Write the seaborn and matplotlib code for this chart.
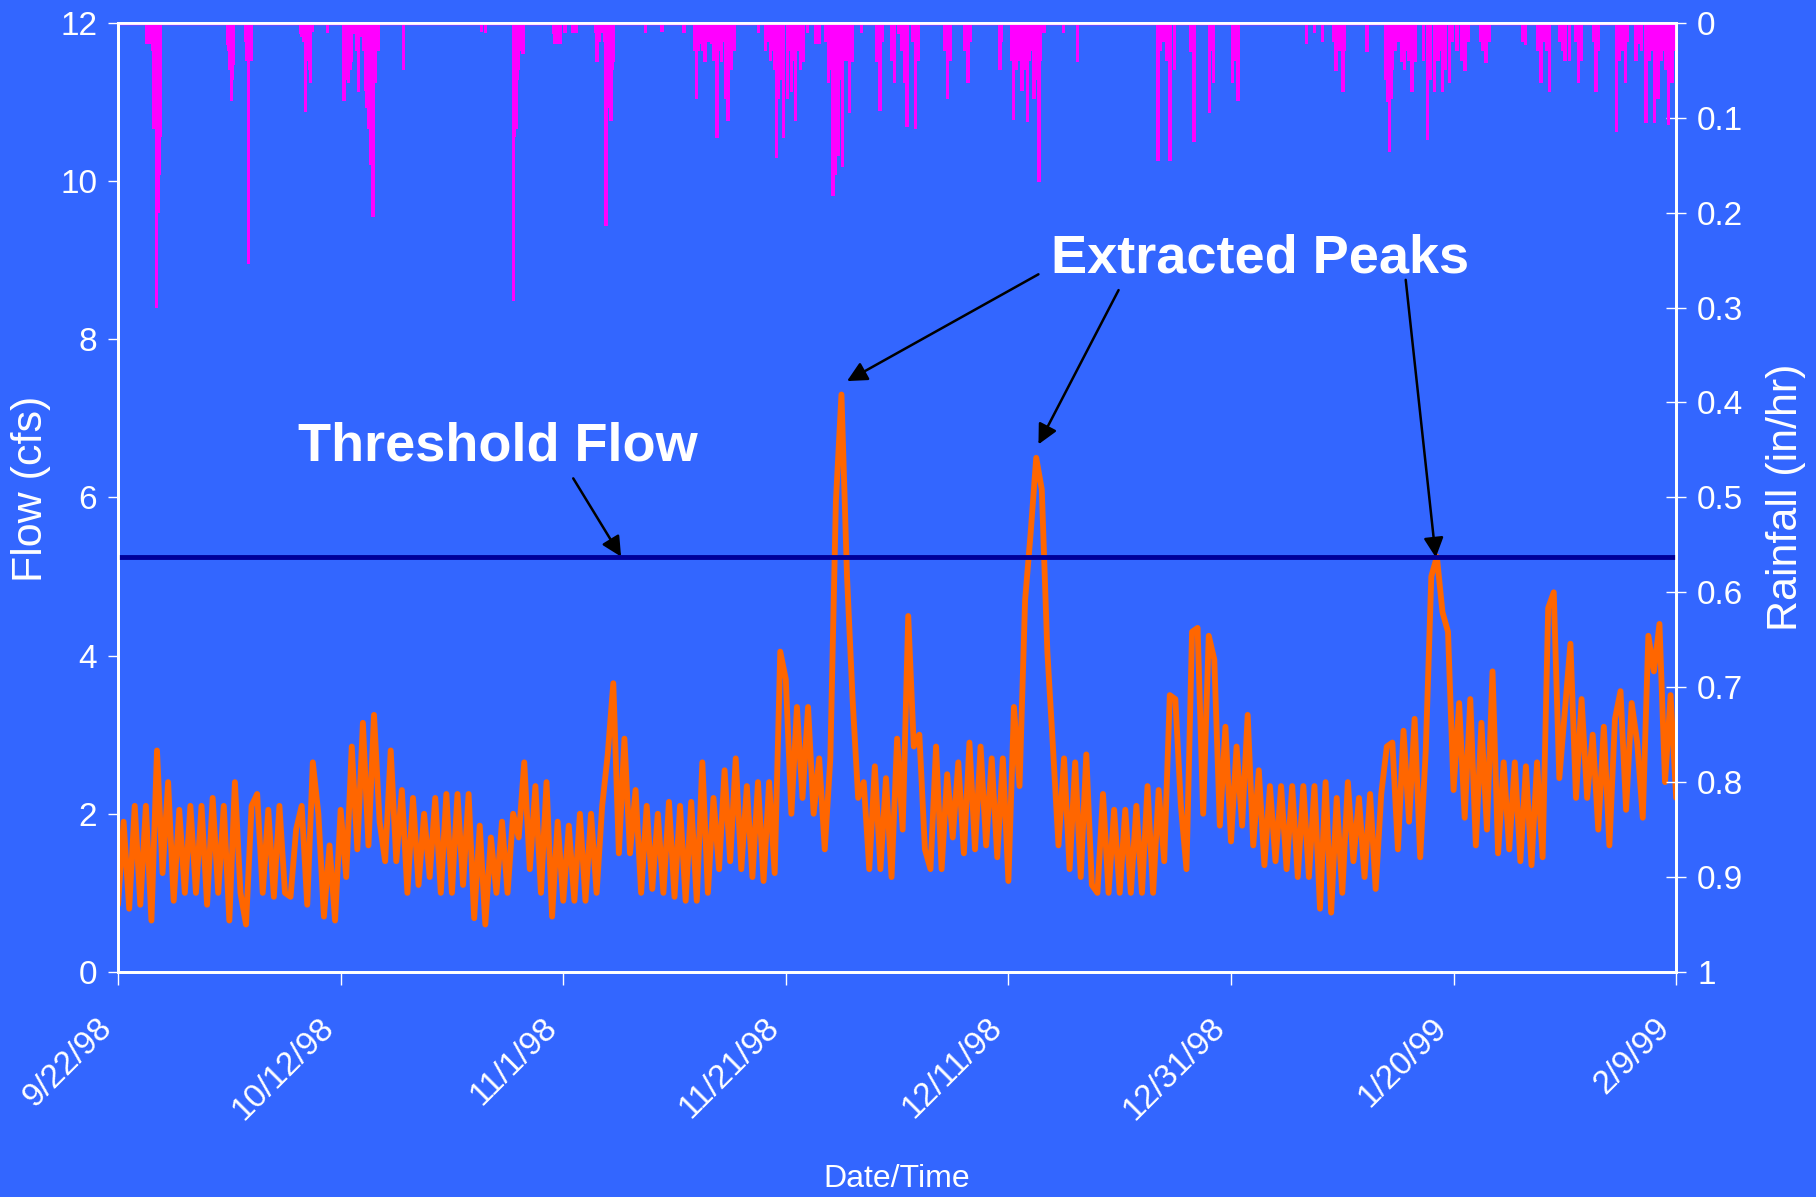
import numpy as np
import pandas as pd
import seaborn as sns
import matplotlib
matplotlib.use('Agg')
import matplotlib.pyplot as plt
import matplotlib.dates as mdates

# flow record (cfs), one reading every 12 h from 9/22/98 00:00
flow_cfs = [
    0.85, 1.9, 0.8, 2.1, 0.85, 2.1, 0.65, 2.8, 1.25, 2.4,
    0.9, 2.05, 1.0, 2.1, 1.0, 2.1, 0.85, 2.2, 1.0, 2.1,
    0.65, 2.4, 1.0, 0.6, 2.1, 2.25, 1.0, 2.05, 0.95, 2.1,
    1.0, 0.95, 1.8, 2.1, 0.85, 2.65, 2.0, 0.7, 1.6, 0.65,
    2.05, 1.2, 2.85, 1.55, 3.15, 1.6, 3.25, 1.9, 1.4, 2.8,
    1.4, 2.3, 1.0, 2.2, 1.1, 2.0, 1.2, 2.2, 1.0, 2.25,
    1.0, 2.25, 1.1, 2.25, 0.68, 1.85, 0.6, 1.7, 1.0, 1.9,
    1.0, 2.0, 1.7, 2.65, 1.3, 2.35, 1.0, 2.4, 0.7, 1.9,
    0.9, 1.85, 0.9, 2.0, 0.9, 2.0, 1.0, 2.1, 2.75, 3.65,
    1.5, 2.95, 1.5, 2.3, 1.0, 2.1, 1.05, 2.0, 1.0, 2.15,
    0.95, 2.1, 0.9, 2.15, 0.9, 2.65, 1.0, 2.2, 1.3, 2.55,
    1.4, 2.7, 1.3, 2.35, 1.2, 2.4, 1.15, 2.4, 1.25, 4.05,
    3.7, 2.0, 3.35, 2.2, 3.35, 2.0, 2.7, 1.55, 2.7, 5.95,
    7.3, 5.0, 3.45, 2.2, 2.4, 1.3, 2.6, 1.3, 2.45, 1.2,
    2.95, 1.8, 4.5, 2.85, 3.0, 1.55, 1.3, 2.85, 1.3, 2.5,
    1.7, 2.65, 1.5, 2.9, 1.55, 2.85, 1.6, 2.7, 1.45, 2.7,
    1.15, 3.35, 2.35, 4.7, 5.55, 6.5, 6.1, 4.05, 2.85, 1.6,
    2.7, 1.3, 2.65, 1.2, 2.75, 1.1, 1.0, 2.25, 1.0, 2.05,
    1.0, 2.05, 1.0, 2.1, 1.0, 2.35, 1.0, 2.3, 1.4, 3.5,
    3.45, 2.1, 1.3, 4.3, 4.35, 2.0, 4.25, 3.95, 1.85, 3.1,
    1.65, 2.85, 1.85, 3.25, 1.6, 2.55, 1.35, 2.35, 1.4, 2.35,
    1.3, 2.35, 1.2, 2.35, 1.2, 2.35, 0.8, 2.4, 0.75, 2.2,
    1.0, 2.4, 1.4, 2.2, 1.2, 2.25, 1.05, 2.25, 2.85, 2.9,
    1.55, 3.05, 1.9, 3.2, 1.45, 2.8, 5.0, 5.25, 4.55, 4.3,
    2.3, 3.4, 1.95, 3.45, 1.6, 3.15, 1.8, 3.8, 1.5, 2.65,
    1.55, 2.65, 1.4, 2.6, 1.35, 2.65, 1.45, 4.6, 4.8, 2.45,
    3.3, 4.15, 2.2, 3.45, 2.2, 3.0, 1.8, 3.1, 1.6, 3.2,
    3.55, 2.05, 3.4, 2.9, 1.95, 4.25, 3.8, 4.4, 2.4, 3.5,
    2.2,
]

# rainfall events: days after 9/22/98 and intensity (in/hr)
rain_day = [
    2.56, 2.77, 2.98, 3.23, 3.47, 3.68, 3.83, 9.81, 10.0, 10.21, 10.4, 11.5, 11.73, 11.97,
    16.43, 16.64, 16.83, 17.07, 17.28, 17.5, 18.8, 20.29, 20.53, 20.71, 20.96, 21.2, 21.59, 21.9,
    22.23, 22.5, 22.72, 22.9, 23.1, 23.4, 25.63, 32.67, 33.04, 35.56, 35.8, 36.0, 36.38,
    39.1, 39.4, 39.72, 40.17, 40.87, 41.17, 42.9, 43.03, 43.45, 43.85, 44.1, 44.3, 44.5,
    47.37, 48.89, 50.86, 51.78, 51.96, 52.38, 52.75, 53.3, 53.81, 54.2, 54.57, 54.81, 55.12, 55.36,
    57.54, 58.15, 58.6, 59.15, 59.52, 59.82, 60.13, 60.52, 60.88, 61.34, 61.55, 61.95,
    62.71, 63.01, 63.86, 64.23, 64.47, 64.68, 65.07, 65.59, 65.74, 65.98, 66.8, 68.17, 68.47,
    69.75, 70.14, 70.66, 70.9, 71.66, 74.54, 76.37, 79.25, 80.25, 80.46, 81.23, 81.69, 82.29,
    82.74, 83.2, 84.96, 86.23,
    93.43, 93.66, 94.52, 94.9, 96.38, 96.69, 98.05, 98.45, 100.15, 100.62, 106.81, 109.44,
    110.06, 110.2, 112.22, 114.07, 114.23, 114.54, 115.3, 115.8, 116.25, 116.56, 117.64, 118.26,
    119.03, 119.65, 121.04, 122.9, 126.45, 127.85, 128.62, 130.01, 131.25, 132.8, 134.66, 135.43,
    136.67, 137.29, 138.07, 138.38, 139.3, 139.62,
    # smaller readings inside the storm clusters
    2.65, 3.1, 3.58, 9.9, 10.3, 11.6, 16.5, 16.95, 17.2, 20.4, 20.62, 20.85, 21.45, 22.1,
    22.35, 22.6, 22.8, 23.0, 35.65, 35.9, 36.2, 39.25, 39.55, 43.2, 43.7, 43.95, 44.2, 44.4,
    52.1, 52.55, 53.0, 53.55, 54.0, 54.4, 58.3, 58.8, 59.0, 59.35, 59.68, 60.3, 60.7, 61.1,
    63.6, 64.05, 64.9, 65.3, 68.3, 68.7, 69.5, 70.4, 71.4, 71.9, 74.3, 74.8, 76.1, 76.6,
    79.4, 80.7, 81.0, 81.45, 81.9, 82.1, 82.5, 82.9,
    93.9, 94.2, 96.5, 98.3, 100.4, 107.5, 108.2, 109.2, 109.8, 113.9, 114.4, 114.8, 115.1,
    115.6, 116.0, 117.3, 117.9, 118.6, 118.8, 119.3, 119.9, 120.3, 120.7, 121.3, 122.4, 122.6,
    123.2, 126.2, 127.6, 128.1, 128.4, 129.5, 129.8, 130.4, 131.0, 131.5, 132.6, 133.0, 134.9,
    135.2, 135.6, 136.4, 136.9, 137.6, 137.8, 138.7, 138.9, 139.1, 139.5, 139.8,
]
rain_inhr = [
    0.022, 0.022, 0.022, 0.112, 0.30, 0.16, 0.12, 0.023, 0.05, 0.082, 0.045, 0.02, 0.254, 0.04,
    0.012, 0.02, 0.094, 0.04, 0.063, 0.01, 0.011, 0.082, 0.06, 0.063, 0.041, 0.012, 0.073, 0.015,
    0.072, 0.112, 0.15, 0.205, 0.063, 0.03, 0.05, 0.01, 0.011, 0.293, 0.112, 0.05, 0.033,
    0.012, 0.022, 0.022, 0.011, 0.011, 0.011, 0.011, 0.041, 0.011, 0.214, 0.041, 0.103, 0.041,
    0.011, 0.01, 0.011, 0.03, 0.08, 0.022, 0.041, 0.022, 0.121, 0.041, 0.08, 0.103, 0.05, 0.03,
    0.011, 0.03, 0.04, 0.143, 0.06, 0.121, 0.08, 0.073, 0.103, 0.05, 0.041, 0.011,
    0.022, 0.022, 0.063, 0.183, 0.16, 0.14, 0.152, 0.04, 0.095, 0.041, 0.011, 0.041, 0.093,
    0.063, 0.012, 0.063, 0.11, 0.112, 0.08, 0.063, 0.05, 0.04, 0.102, 0.072, 0.105, 0.08,
    0.168, 0.011, 0.011, 0.041,
    0.146, 0.03, 0.146, 0.05, 0.031, 0.126, 0.095, 0.064, 0.064, 0.082, 0.022, 0.051,
    0.073, 0.03, 0.031, 0.084, 0.136, 0.05, 0.041, 0.03, 0.073, 0.041, 0.124, 0.073,
    0.073, 0.064, 0.051, 0.042, 0.023, 0.064, 0.073, 0.04, 0.064, 0.073, 0.115, 0.064,
    0.022, 0.106, 0.106, 0.08, 0.108, 0.064,
    0.02, 0.03, 0.2, 0.03, 0.06, 0.04, 0.015, 0.03, 0.05, 0.05, 0.06, 0.05, 0.03, 0.03,
    0.09, 0.11, 0.14, 0.05, 0.12, 0.06, 0.03, 0.022, 0.02, 0.02, 0.02, 0.09, 0.08, 0.05,
    0.03, 0.03, 0.02, 0.04, 0.03, 0.02, 0.02, 0.03, 0.05, 0.08, 0.04, 0.03, 0.04, 0.03,
    0.02, 0.05, 0.06, 0.04, 0.02, 0.02, 0.04, 0.03, 0.02, 0.04, 0.03, 0.04, 0.03, 0.02,
    0.02, 0.05, 0.04, 0.05, 0.04, 0.03, 0.06, 0.04,
    0.02, 0.04, 0.02, 0.03, 0.04, 0.011, 0.02, 0.02, 0.03, 0.06, 0.08, 0.03, 0.02,
    0.05, 0.04, 0.04, 0.06, 0.04, 0.03, 0.05, 0.02, 0.03, 0.04, 0.02, 0.02, 0.03,
    0.02, 0.02, 0.03, 0.02, 0.03, 0.02, 0.03, 0.04, 0.02, 0.04, 0.02, 0.03, 0.04,
    0.03, 0.02, 0.04, 0.03, 0.04, 0.03, 0.04, 0.03, 0.05, 0.04, 0.03,
]

date_labels = ['9/22/98', '10/12/98', '11/1/98', '11/21/98', '12/11/98', '12/31/98', '1/20/99', '2/9/99']
threshold_flow = 5.25

BG = '#3366FF'
sns.set_style('white', {'axes.facecolor': BG, 'figure.facecolor': BG,
                        'axes.edgecolor': 'white', 'axes.grid': False})
plt.rcParams['font.family'] = ['Liberation Sans', 'DejaVu Sans']

start = pd.Timestamp('1998-09-22')
df = pd.DataFrame({'time': pd.date_range(start, periods=len(flow_cfs), freq='12h'),
                   'flow': flow_cfs})
rain = pd.DataFrame({'time': start + pd.to_timedelta(rain_day, unit='D'), 'rain': rain_inhr})
ticks = pd.to_datetime(date_labels, format='%m/%d/%y')
x0 = mdates.date2num(start)

fig, ax = plt.subplots(figsize=(18.16, 11.97), dpi=100)
fig.subplots_adjust(left=0.065, right=0.923, bottom=0.188, top=0.981)

sns.lineplot(data=df, x='time', y='flow', ax=ax, color='#FF6600', linewidth=4.2)
ax.axhline(threshold_flow, color='#000099', linewidth=3.5, zorder=5)

ax2 = ax.twinx()
ax2.bar(mdates.date2num(rain['time']), rain['rain'], width=0.3, color='#FF00FF', linewidth=0)
ax2.axhline(0, color='#FF00FF', linewidth=2.5)
ax2.set_ylim(1, 0)

ax.set_xlim(ticks[0], ticks[-1])
ax.set_ylim(0, 12)
ax.set_yticks(range(0, 13, 2))
ax.set_xticks(ticks)
ax.set_xticklabels(date_labels, rotation=45, ha='right', va='top')
rain_ticks = np.round(np.arange(0, 1.01, 0.1), 1)
ax2.set_yticks(rain_ticks)
ax2.set_yticklabels([f'{v:g}' for v in rain_ticks])

for a in (ax, ax2):
    for s in a.spines.values():
        s.set_color('white')
        s.set_linewidth(2)
ax.tick_params(axis='y', colors='white', labelsize=24, length=7, width=1, direction='out', pad=8, left=True)
ax.tick_params(axis='x', colors='white', labelsize=24, length=9, width=1, direction='out', pad=20, bottom=True)
ax2.tick_params(axis='y', colors='white', labelsize=24, length=14, width=1, direction='inout', pad=8, right=True)

ax.set_xlabel('Date/Time', color='white', fontsize=23, va='center')
ax.xaxis.set_label_coords(0.5, -0.218)
ax.set_ylabel('Flow (cfs)', color='white', fontsize=31, va='center')
ax.yaxis.set_label_coords(-0.056, 0.509)
ax2.set_ylabel('Rainfall (in/hr)', color='white', fontsize=31, va='center', rotation=90)
ax2.yaxis.set_label_coords(1.0706, 0.5)

# annotations
arrow = dict(arrowstyle='-|>', color='black', lw=1.8, mutation_scale=30, shrinkA=0, shrinkB=0)
ax.text(x0 + 16.2, 6.46, 'Threshold Flow', fontsize=39, fontweight='bold', color='white',
        ha='left', va='baseline')
ax.annotate('', xy=(x0 + 45.2, 5.25), xytext=(x0 + 40.9, 6.24), arrowprops=arrow)
ax.text(x0 + 83.8, 8.84, 'Extracted Peaks', fontsize=39, fontweight='bold', color='white',
        ha='left', va='baseline')
ax.annotate('', xy=(x0 + 65.5, 7.47), xytext=(x0 + 82.7, 8.82), arrowprops=arrow)
ax.annotate('', xy=(x0 + 82.7, 6.67), xytext=(x0 + 89.9, 8.62), arrowprops=arrow)
ax.annotate('', xy=(x0 + 118.4, 5.24), xytext=(x0 + 115.7, 8.75), arrowprops=arrow)

fig.savefig('out.png', dpi=100, facecolor=BG)
